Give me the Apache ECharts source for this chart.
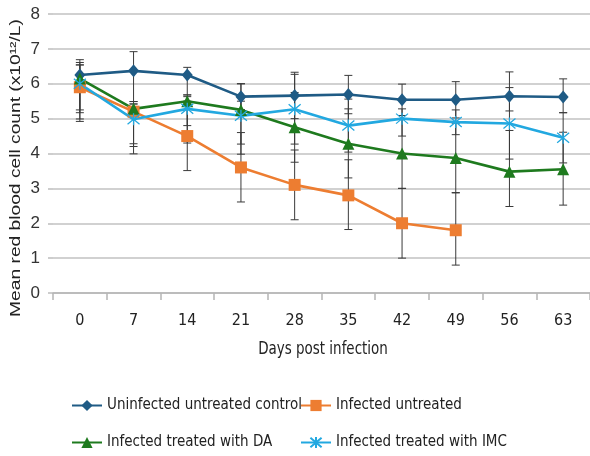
<!DOCTYPE html>
<html><head><meta charset="utf-8">
<script src="https://cdn.jsdelivr.net/npm/echarts@6/dist/echarts.min.js"></script>
<style>html,body{margin:0;padding:0;background:#fff}#c{width:590px;height:456px}</style>
</head><body><div id="c"></div>
<script>
const days = ['0','7','14','21','28','35','42','49','56','63'];
const yTicks = [0,1,2,3,4,5,6,7,8];
const controlVals = [6.25,6.37,6.25,5.63,5.66,5.69,5.54,5.54,5.64,5.62];
const controlLo   = [5.17,5.49,5.68,5.26,5.00,5.14,5.09,5.02,5.22,5.17];
const controlHi   = [6.69,6.92,6.47,6.00,6.33,6.24,5.99,6.06,6.34,6.14];
const untreatedVals = [5.90,5.20,4.50,3.60,3.10,2.80,2.00,1.80];
const untreatedLo   = [5.25,3.99,3.51,2.61,2.10,1.82,1.00,0.80];
const untreatedHi   = [6.54,5.42,5.50,4.60,4.10,3.82,3.00,2.88];
const daVals = [6.15,5.28,5.50,5.25,4.75,4.28,4.00,3.87,3.48,3.55];
const daLo   = [4.92,4.28,4.30,4.27,3.75,3.30,3.00,2.87,2.48,2.52];
const daHi   = [6.61,5.49,5.63,6.00,5.75,5.28,5.00,4.87,4.66,4.61];
const imcVals = [6.00,4.98,5.28,5.08,5.27,4.80,5.00,4.90,4.86,4.45];
const imcLo   = [4.99,4.20,4.80,3.98,4.27,4.04,4.50,4.54,3.84,3.73];
const imcHi   = [6.54,5.42,5.68,5.50,6.27,5.56,5.28,5.25,5.89,5.17];
const names = ['Uninfected untreated control','Infected untreated','Infected treated with DA','Infected treated with IMC'];
const yTitle = 'Mean red blood cell count (x10¹²/L)';
const xTitle = 'Days post infection';

const narrow = "'DejaVu Sans Condensed','Liberation Sans Narrow',sans-serif";
const C = {ctrl:'#1F5B85', orange:'#ED7D31', green:'#1E7A1E', light:'#22A8E0'};

function errSeries(lo, hi){
  return {
    type:'custom', silent:true, z:1,
    data: lo.map((l,i)=>[i, l, hi[i]]),
    renderItem: function(params, api){
      const a = api.coord([api.value(0), api.value(1)]);
      const b = api.coord([api.value(0), api.value(2)]);
      const w = 4;
      const st = {stroke:'#3a3a3a', lineWidth:1};
      return {type:'group', children:[
        {type:'line', shape:{x1:a[0],y1:a[1],x2:b[0],y2:b[1]}, style:st},
        {type:'line', shape:{x1:a[0]-w,y1:a[1],x2:a[0]+w,y2:a[1]}, style:st},
        {type:'line', shape:{x1:b[0]-w,y1:b[1],x2:b[0]+w,y2:b[1]}, style:st}
      ]};
    }
  };
}
function lineSeries(name, vals, color, symbol, size, extra){
  return Object.assign({
    name:name, type:'line', data:vals, z:3,
    symbol:symbol, symbolSize:size,
    lineStyle:{color:color, width:2.6},
    itemStyle:{color:color, borderWidth:0},
    emphasis:{disabled:true}
  }, extra||{});
}
function leg(name, left, top){
  return {data:[name], left:left, top:top, itemWidth:30, itemHeight:14, padding:0,
    textStyle:{fontFamily:narrow, fontSize:15, color:'#222'}};
}

const chart = echarts.init(document.getElementById('c'));
chart.setOption({
  animation:false,
  grid:{left:53, right:-3, top:14, bottom:163},
  legend:[leg(names[0],71,398), leg(names[1],300,398), leg(names[2],71,435), leg(names[3],300,435)],
  xAxis:{
    type:'category', data:days, boundaryGap:true,
    axisLine:{lineStyle:{color:'#b5b5b5', width:1.5}},
    axisTick:{show:true, length:7, lineStyle:{color:'#b5b5b5', width:1.5}},
    axisLabel:{fontFamily:narrow, fontSize:16, color:'#222', margin:20}
  },
  yAxis:{
    type:'value', min:yTicks[0], max:yTicks[yTicks.length-1], interval:1,
    axisLine:{show:false},
    axisTick:{show:true, length:5, lineStyle:{color:'#bdbdbd', width:1.5}},
    axisLabel:{fontFamily:"'Liberation Sans',Arial,sans-serif", fontSize:17, color:'#333', margin:13},
    splitLine:{lineStyle:{color:'#c2c2c2', width:1.5}}
  },
  graphic:[{
    type:'text', x:16, y:168, rotation:Math.PI/2, scaleX:1.28,
    style:{text:yTitle, fontFamily:"'Liberation Sans',Arial,sans-serif",
      fontSize:15, fill:'#222', align:'center', verticalAlign:'middle'}
  },{
    type:'text', x:323, y:350, scaleX:0.88,
    style:{text:xTitle, fontFamily:narrow, fontSize:17, fill:'#222', align:'center', verticalAlign:'middle'}
  }],
  series:[
    errSeries(controlLo, controlHi),
    errSeries(untreatedLo, untreatedHi),
    errSeries(daLo, daHi),
    errSeries(imcLo, imcHi),
    lineSeries(names[0], controlVals, C.ctrl, 'diamond', [11,13]),
    lineSeries(names[1], untreatedVals, C.orange, 'rect', 12),
    lineSeries(names[2], daVals, C.green, 'triangle', 12),
    lineSeries(names[3], imcVals, C.light, 'path://M0,1L10,11M10,1L0,11M5,0L5,12', 12,
      {itemStyle:{color:'rgba(0,0,0,0)', borderColor:C.light, borderWidth:1.3}})
  ]
});
</script></body></html>
